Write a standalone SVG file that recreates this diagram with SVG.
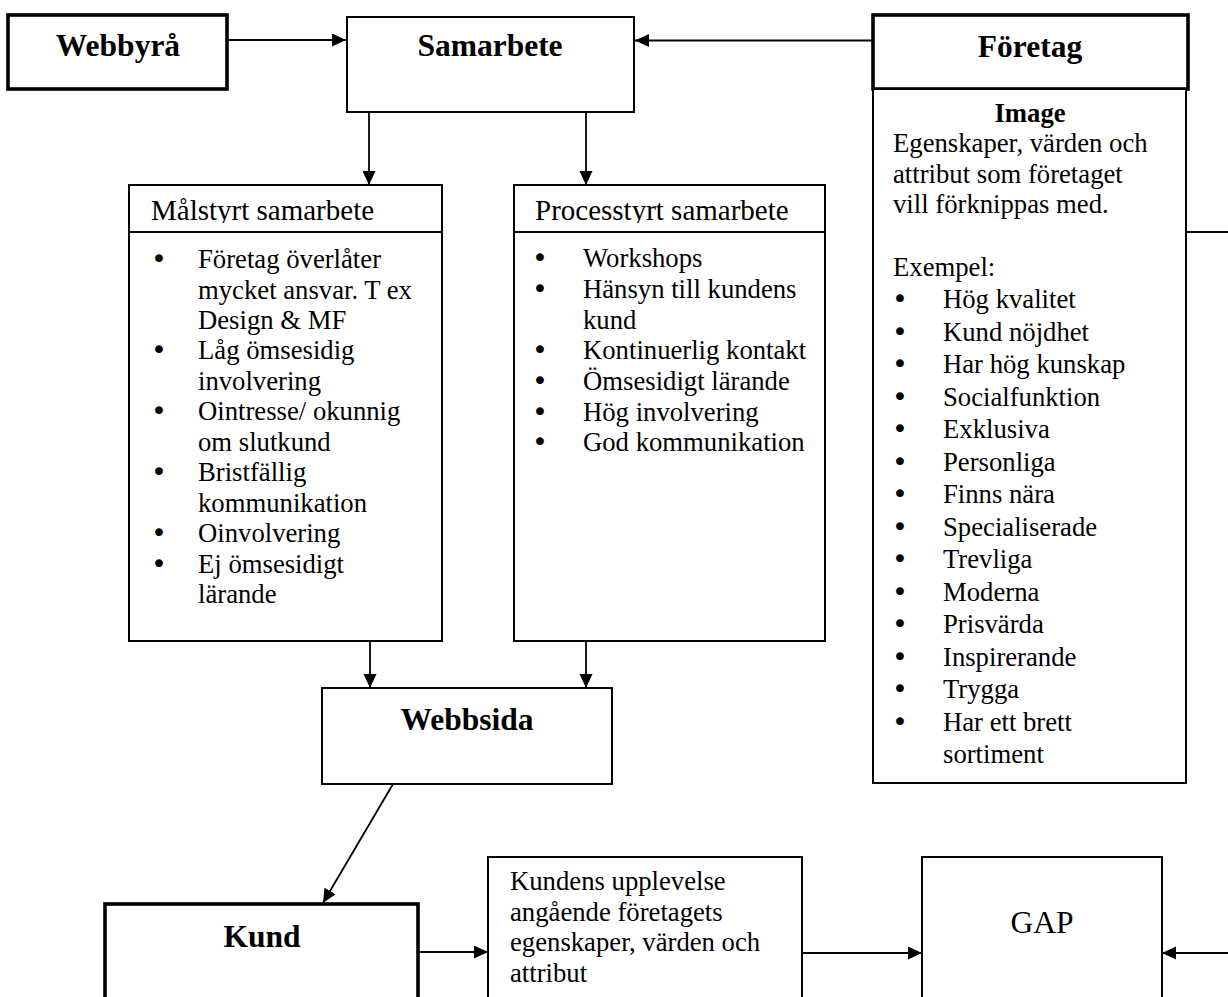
<svg xmlns="http://www.w3.org/2000/svg" width="1228" height="997" viewBox="0 0 1228 997">
  <style>
    text { font-family: "Liberation Serif", "Times New Roman", serif; fill: #000; }
    .title { font-size: 31.5px; font-weight: bold; text-anchor: middle; }
    .head { font-size: 29px; }
    .body { font-size: 26.7px; }
    .bullet { font-family: "DejaVu Sans", sans-serif; font-size: 27px; text-anchor: middle; }
    .bold { font-weight: bold; }
    .mid { text-anchor: middle; }
    .box { fill: #fff; stroke: #000; stroke-width: 2; }
    .thick { fill: #fff; stroke: #000; stroke-width: 3.6; }
    .link { fill: none; stroke: #000; stroke-width: 1.8; }
  </style>
  <defs>
    <marker id="arrow" markerUnits="userSpaceOnUse" markerWidth="15" markerHeight="14" refX="14" refY="6.5" orient="auto">
      <path d="M0,0 L14,6.5 L0,13 z" fill="#000"/>
    </marker>
    <clipPath id="clipHeadL"><rect x="129" y="185" width="313" height="38"/></clipPath>
    <clipPath id="clipHeadR"><rect x="514" y="185" width="311" height="38"/></clipPath>
  </defs>

  <!-- connectors -->
  <g id="connectors">
    <path class="link" d="M227,40 H346" marker-end="url(#arrow)"/>
    <path class="link" d="M873,40.5 H635" marker-end="url(#arrow)"/>
    <path class="link" d="M369,112 V185" marker-end="url(#arrow)"/>
    <path class="link" d="M586,112 V185" marker-end="url(#arrow)"/>
    <path class="link" d="M370,641 V688" marker-end="url(#arrow)"/>
    <path class="link" d="M586,641 V688" marker-end="url(#arrow)"/>
    <path class="link" d="M393,784 L323,903" marker-end="url(#arrow)"/>
    <path class="link" d="M418,952 H488" marker-end="url(#arrow)"/>
    <path class="link" d="M802,953 H922" marker-end="url(#arrow)"/>
    <path class="link" d="M1228,953 H1162" marker-end="url(#arrow)"/>
    <path class="link" d="M1186,232 H1228"/>
  </g>

  <g id="webbyra">
    <rect class="thick" x="8" y="15" width="219" height="74"/>
    <text class="title" x="118" y="56">Webbyrå</text>
  </g>

  <g id="samarbete">
    <rect class="box" x="347" y="17" width="287" height="95"/>
    <text class="title" x="490" y="56">Samarbete</text>
  </g>

  <g id="foretag">
    <rect class="thick" x="873" y="15" width="315" height="74"/>
    <text class="title" x="1030" y="57">Företag</text>
  </g>

  <g id="image">
    <rect class="box" x="873" y="89" width="313" height="694"/>
    <text class="body bold mid" x="1030" y="122">Image</text>
    <text class="body" x="893">
      <tspan x="893" y="152">Egenskaper, värden och</tspan>
      <tspan x="893" y="183">attribut som företaget</tspan>
      <tspan x="893" y="213">vill förknippas med.</tspan>
      <tspan x="893" y="276">Exempel:</tspan>
    </text>
    <g class="bullet">
      <text class="bullet" x="900" y="308">•</text>
      <text class="bullet" x="900" y="340.5">•</text>
      <text class="bullet" x="900" y="373">•</text>
      <text class="bullet" x="900" y="405.5">•</text>
      <text class="bullet" x="900" y="438">•</text>
      <text class="bullet" x="900" y="470.5">•</text>
      <text class="bullet" x="900" y="503">•</text>
      <text class="bullet" x="900" y="535.5">•</text>
      <text class="bullet" x="900" y="568">•</text>
      <text class="bullet" x="900" y="600.5">•</text>
      <text class="bullet" x="900" y="633">•</text>
      <text class="bullet" x="900" y="665.5">•</text>
      <text class="bullet" x="900" y="698">•</text>
      <text class="bullet" x="900" y="730.5">•</text>
    </g>
    <text class="body">
      <tspan x="943" y="308">Hög kvalitet</tspan>
      <tspan x="943" y="340.5">Kund nöjdhet</tspan>
      <tspan x="943" y="373">Har hög kunskap</tspan>
      <tspan x="943" y="405.5">Socialfunktion</tspan>
      <tspan x="943" y="438">Exklusiva</tspan>
      <tspan x="943" y="470.5">Personliga</tspan>
      <tspan x="943" y="503">Finns nära</tspan>
      <tspan x="943" y="535.5">Specialiserade</tspan>
      <tspan x="943" y="568">Trevliga</tspan>
      <tspan x="943" y="600.5">Moderna</tspan>
      <tspan x="943" y="633">Prisvärda</tspan>
      <tspan x="943" y="665.5">Inspirerande</tspan>
      <tspan x="943" y="698">Trygga</tspan>
      <tspan x="943" y="730.5">Har ett brett</tspan>
      <tspan x="943" y="763">sortiment</tspan>
    </text>
  </g>

  <g id="malstyrt">
    <rect class="box" x="129" y="185" width="313" height="456"/>
    <line class="link" x1="129" y1="232" x2="442" y2="232"/>
    <text class="head" x="151" y="220" clip-path="url(#clipHeadL)">Målstyrt samarbete</text>
    <text class="bullet" x="159" y="268">•</text>
    <text class="bullet" x="159" y="359">•</text>
    <text class="bullet" x="159" y="420">•</text>
    <text class="bullet" x="159" y="481">•</text>
    <text class="bullet" x="159" y="542">•</text>
    <text class="bullet" x="159" y="572.5">•</text>
    <text class="body">
      <tspan x="198" y="268">Företag överlåter</tspan>
      <tspan x="198" y="298.5">mycket ansvar. T ex</tspan>
      <tspan x="198" y="329">Design &amp; MF</tspan>
      <tspan x="198" y="359">Låg ömsesidig</tspan>
      <tspan x="198" y="389.5">involvering</tspan>
      <tspan x="198" y="420">Ointresse/ okunnig</tspan>
      <tspan x="198" y="450.5">om slutkund</tspan>
      <tspan x="198" y="481">Bristfällig</tspan>
      <tspan x="198" y="511.5">kommunikation</tspan>
      <tspan x="198" y="542">Oinvolvering</tspan>
      <tspan x="198" y="572.5">Ej ömsesidigt</tspan>
      <tspan x="198" y="603">lärande</tspan>
    </text>
  </g>

  <g id="processtyrt">
    <rect class="box" x="514" y="185" width="311" height="456"/>
    <line class="link" x1="514" y1="232" x2="825" y2="232"/>
    <text class="head" x="535" y="220" clip-path="url(#clipHeadR)">Processtyrt samarbete</text>
    <text class="bullet" x="540" y="267">•</text>
    <text class="bullet" x="540" y="298">•</text>
    <text class="bullet" x="540" y="359">•</text>
    <text class="bullet" x="540" y="390">•</text>
    <text class="bullet" x="540" y="421">•</text>
    <text class="bullet" x="540" y="451">•</text>
    <text class="body">
      <tspan x="583" y="267">Workshops</tspan>
      <tspan x="583" y="298">Hänsyn till kundens</tspan>
      <tspan x="583" y="328.5">kund</tspan>
      <tspan x="583" y="359">Kontinuerlig kontakt</tspan>
      <tspan x="583" y="390">Ömsesidigt lärande</tspan>
      <tspan x="583" y="421">Hög involvering</tspan>
      <tspan x="583" y="451">God kommunikation</tspan>
    </text>
  </g>

  <g id="webbsida">
    <rect class="box" x="322" y="688" width="290" height="96"/>
    <text class="title" x="467" y="730">Webbsida</text>
  </g>

  <g id="kund">
    <rect class="thick" x="105" y="904" width="313" height="110"/>
    <text class="title" x="262" y="947">Kund</text>
  </g>

  <g id="upplevelse">
    <rect class="box" x="488" y="857" width="314" height="160"/>
    <text class="body">
      <tspan x="510" y="890">Kundens upplevelse</tspan>
      <tspan x="510" y="920.5">angående företagets</tspan>
      <tspan x="510" y="951">egenskaper, värden och</tspan>
      <tspan x="510" y="981.5">attribut</tspan>
    </text>
  </g>

  <g id="gap">
    <rect class="box" x="922" y="857" width="240" height="160"/>
    <text class="mid" x="1042" y="933" style="font-size:31.5px">GAP</text>
  </g>
</svg>
